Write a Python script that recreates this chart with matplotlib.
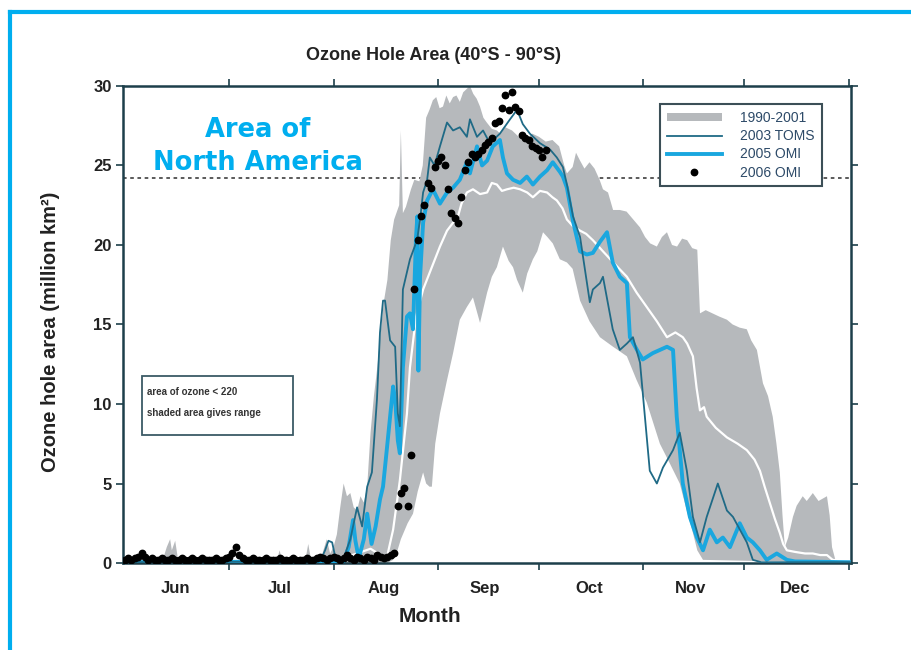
import numpy as np
import matplotlib.pyplot as plt
from matplotlib.lines import Line2D
from matplotlib.patches import Rectangle

plt.rcParams['font.family'] = ['Liberation Sans', 'DejaVu Sans']

# x positions are day of year
month_starts = [182, 213, 244, 274, 305, 335, 366]
month_mids = [166, 197, 228, 258, 289, 319, 350]
month_names = ['Jun', 'Jul', 'Aug', 'Sep', 'Oct', 'Nov', 'Dec']

na_area = 24.2  # area of North America, million km2

# 1990-2001 range (upper and lower edge of the shaded band)
band_hi_day = [150, 162, 163.5, 164.5, 165, 166, 167, 196, 197, 198, 204.5, 205.5, 206.5, 209, 210, 211, 212,
               213, 214, 215, 216, 217, 218, 219, 220, 221, 222, 223, 224, 225, 226, 227, 228, 229, 230, 231,
               232.5, 233, 233.6, 234.5, 236, 237, 238.5, 239.5, 240.5, 241.5, 242.5, 243.5, 244.5, 245.5,
               246.5, 247.5, 248.5, 249.5, 250.5, 251.5, 252.5, 253.5, 254.5, 255.5, 256.5, 257.5, 258.5, 260,
               261.5, 262.5, 264, 266, 268, 270, 272, 274, 276, 278, 280, 281.5, 282.3, 284, 285, 286.2, 287.5,
               289, 290.5, 292, 293, 294.5, 296, 298, 300, 302, 304, 305.5, 307, 309, 310.5, 312, 313.5, 315,
               316.5, 318, 319.5, 321, 321.8, 323.5, 325.5, 327.5, 329.8, 331.5, 333.6, 335.7, 337, 338.7,
               340.5, 342, 343.4, 344.5, 345.5, 346.3, 347, 348, 349.4, 350.5, 352.3, 353.5, 355.3, 357, 359.5,
               360.3, 361, 362, 366.6]
band_hi_val = [0, 0, 1.0, 1.5, 0.8, 1.4, 0, 0, 0.8, 0, 0, 1.2, 0, 0, 0.8, 1.5, 0.6,
               1.0, 1.8, 3.5, 5.0, 4.2, 4.4, 3.5, 3.3, 4.2, 3.8, 4.8, 8.2, 10.5, 12.3, 14.5, 16.5, 17.8, 20.3, 21.6,
               22.5, 27.2, 22.0, 22.4, 23.5, 24.1, 24.0, 25.0, 28.0, 28.5, 29.1, 29.3, 28.6, 28.7,
               29.4, 28.9, 29.3, 29.4, 29.0, 29.6, 29.8, 30.0, 29.5, 29.2, 28.7, 28.0, 27.7, 27.3,
               27.2, 27.0, 27.4, 27.2, 26.8, 26.6, 27.0, 26.8, 26.5, 26.6, 26.2, 25.0, 24.5, 24.9, 25.8, 25.3, 24.8,
               25.2, 24.8, 24.1, 23.5, 23.3, 22.2, 22.2, 22.1, 21.6, 21.1, 20.5, 20.1, 19.9, 20.5, 20.8, 20.0, 19.9,
               20.4, 20.3, 19.8, 19.7, 15.7, 15.9, 15.7, 15.5, 15.3, 15.0, 14.8, 14.7, 14.0, 13.4,
               11.3, 10.5, 9.2, 7.5, 5.7, 3.0, 1.0, 1.6, 2.9, 3.6, 4.2, 3.9, 4.4, 3.9, 4.2,
               3.0, 1.0, 0.2, 0.05]
band_lo_day = [150, 229, 230.7, 232, 233, 235, 236.6, 238, 239.6, 240.5, 241.5, 242.2, 243.2, 244.6, 246.7,
               248.5, 250.5, 252.6, 254.4, 256.5, 258.6, 260, 261.5, 263.3, 265, 266.3, 267.5, 269.2, 270.5,
               272.2, 273.5, 275.2, 276.5, 278.1, 280.2, 282.3, 284, 286.2, 289, 292.1, 296, 300.1, 303, 306,
               309.9, 313, 315.8, 318, 319.7, 321, 322.7, 366.6]
band_lo_val = [0, 0, 0.2, 0.8, 1.5, 2.5, 3.1, 4.5, 5.7, 5.0, 4.8, 4.8, 7.5, 9.4, 11.5,
               13.2, 15.3, 16.1, 16.7, 15.1, 17.0, 18.0, 18.6, 19.9, 19.0, 18.6, 17.8, 17.0, 18.2,
               19.1, 19.6, 20.8, 20.5, 20.1, 19.1, 18.9, 18.5, 16.5, 15.2, 14.2, 13.6, 13.0, 11.5, 10.1,
               7.5, 6.2, 5.0, 3.2, 1.9, 0.8, 0.2, 0]

# 1990-2001 mean (white line)
mean_day = [150.5, 214, 220, 224, 227, 228.9, 230.7, 232.7, 234.8, 235.7, 237.5, 239.6, 242, 244.6, 246.7,
            248.5, 249.7, 251, 252.6, 254.4, 256.5, 258.6, 260, 261.5, 263, 264.5, 266.5, 268.4, 270.5, 272.2,
            274.3, 276.4, 278, 279.3, 281, 282.3, 284, 286.2, 288, 290, 293, 296.5, 300.1, 303, 306, 309, 312,
            314.5, 316.7, 318, 319.7, 320.8, 321.8, 323, 323.8, 326.5, 329.8, 333, 335.7, 338, 339.6, 341,
            342.5, 344, 345.5, 346.5, 347.6, 350, 353, 355.3, 357.5, 359.5, 361.2, 366.6]
mean_val = [0.1, 0.2, 0.6, 0.9, 0.5, 0.4, 2.1, 5.2, 9.4, 12.3, 15.5, 17.2, 18.5, 19.9, 20.9,
            21.4, 21.6, 22.6, 23.3, 23.5, 23.2, 23.3, 23.9, 23.8, 23.4, 23.5, 23.6, 23.5, 23.3, 23.0,
            23.4, 23.3, 23.0, 22.8, 22.3, 21.6, 21.2, 20.9, 20.7, 20.3, 19.6, 18.8, 18.0, 17.0, 16.1, 15.2, 14.2,
            14.5, 14.2, 13.8, 13.0, 11.0, 9.6, 9.8, 9.2, 8.5, 7.9, 7.5, 7.1, 6.5, 5.8, 4.8,
            3.8, 2.8, 1.9, 1.2, 0.8, 0.7, 0.6, 0.6, 0.5, 0.5, 0.2, 0.1]

# 2003 TOMS
toms03_day = [150.5, 209, 210.5, 211.5, 212.6, 213.5, 216, 218, 220, 221.5, 223, 224.4, 225.9, 226.8, 227.7,
              228.3, 229.8, 231.3, 232.1, 232.7, 233.6, 235.7, 237.8, 238.7, 239.6, 240.8, 241.6, 243, 244.6,
              246.7, 248.5, 250.5, 252.6, 253.5, 255.6, 257.4, 259.4, 262.4, 265.4, 267.5, 269.2, 271.3, 274.3,
              277.3, 279.3, 281.1, 282.3, 284.1, 286.2, 289.1, 290, 292.1, 293, 295.9, 298, 300.1, 301.9, 304,
              306.9, 309, 310.8, 313.8, 315.8, 317.9, 319.7, 321.8, 323.8, 327.1, 329.8, 331.6, 335.7, 337.5,
              340, 366.6]
toms03_val = [0.05, 0.1, 0.8, 1.4, 1.3, 0.4, 0.3, 1.5, 3.5, 2.3, 4.8, 5.7, 10.3, 14.5, 16.5,
              16.5, 14.0, 13.6, 9.4, 8.6, 17.2, 19.1, 20.3, 21.6, 23.3, 24.1, 25.5, 25.0, 26.2,
              27.7, 27.2, 27.4, 26.8, 27.9, 26.8, 27.2, 26.4, 27.0, 27.9, 28.5, 27.6, 27.0, 26.4,
              26.0, 25.5, 24.9, 23.8, 21.8, 20.5, 16.4, 17.2, 17.6, 18.0, 14.7, 13.4, 13.8, 14.2, 12.6,
              5.8, 5.0, 6.0, 7.1, 8.2, 5.8, 2.9, 1.3, 2.9, 5.0, 3.3, 2.9, 1.3, 0.2,
              0.05, 0.05]

# 2005 OMI
omi05_day = [150.5, 216, 217.5, 218.8, 219.5, 220.5, 222, 223, 224.3, 225.5, 226.8, 227.7, 229, 229.8, 230.7,
             231.3, 232.1, 232.7, 233.6, 234.8, 235.7, 236.6, 237.5, 237.9, 238.2, 238.7, 239.6, 240.8, 242.5,
             244.6, 246.7, 248.5, 250.5, 252.6, 253.5, 255.6, 257.1, 258.6, 260.3, 262.4, 263.3, 264.5, 266.3,
             268.4, 270.4, 272.2, 274.3, 276.4, 278.1, 280.2, 281.1, 282.3, 284.1, 286.2, 288.2, 290, 292.1,
             294.2, 295.9, 298, 300.1, 301, 303.1, 304.8, 307.8, 309.9, 312, 313.8, 314.9, 316.7, 318.8, 320.9,
             322.7, 324.7, 326.8, 328.6, 330.7, 333.6, 335.7, 337.5, 339.6, 341.6, 344.6, 347.6, 350, 366.6]
omi05_val = [0.05, 0.1, 1.0, 2.7, 1.4, 0.3, 1.5, 3.1, 1.2, 2.3, 4.0, 4.8, 7.5, 9.2, 11.1,
             10.3, 7.7, 6.9, 12.3, 15.5, 15.7, 14.7, 20.5, 21.8, 12.1, 18.0, 21.4, 22.8, 23.5,
             22.6, 23.3, 23.6, 24.1, 25.2, 24.5, 26.2, 25.0, 25.3, 26.2, 26.6, 25.5, 24.5, 24.1,
             23.9, 24.3, 23.8, 24.3, 24.7, 25.2, 24.6, 24.3, 23.6, 21.5, 19.6, 19.4, 19.5, 20.2,
             20.8, 18.9, 18.0, 17.6, 14.2, 13.4, 12.8, 13.2, 13.4, 13.6, 13.4, 9.2, 5.0, 2.9, 1.6,
             0.8, 2.1, 1.3, 1.6, 1.0, 2.5, 1.6, 1.3, 0.8, 0.2, 0.6, 0.2, 0.1, 0.05]

# 2006 OMI daily values
omi06_day = list(range(151, 277))
omi06_val = [0.2, 0.3, 0.2, 0.3, 0.4, 0.6, 0.4, 0.2, 0.3, 0.2,
             0.2, 0.3, 0.2, 0.2, 0.3, 0.2, 0.2, 0.3, 0.2, 0.2,
             0.3, 0.2, 0.2, 0.3, 0.2, 0.2, 0.2, 0.3, 0.2, 0.2,
             0.3, 0.4, 0.6, 1.0, 0.5, 0.3, 0.2, 0.2, 0.3, 0.2,
             0.2, 0.2, 0.3, 0.2, 0.2, 0.2, 0.3, 0.2, 0.2, 0.2,
             0.3, 0.2, 0.2, 0.2, 0.3, 0.2, 0.2, 0.3, 0.4, 0.3,
             0.2, 0.3, 0.4, 0.3, 0.2, 0.3, 0.5, 0.3, 0.2, 0.4,
             0.3, 0.2, 0.4, 0.3, 0.2, 0.5, 0.4, 0.3, 0.4, 0.5, 0.6,
             3.6, 4.4, 4.7, 3.6, 6.8, 17.2, 20.3, 21.8, 22.5, 23.9,
             23.6, 24.9, 25.3, 25.5, 25.0, 23.5, 22.0, 21.7, 21.4, 23.0,
             24.7, 25.2, 25.7, 25.5, 25.7, 26.0, 26.3, 26.5, 26.7, 27.7,
             27.8, 28.6, 29.4, 28.5, 29.6, 28.7, 28.4, 26.9, 26.7, 26.6,
             26.2, 26.1, 26.0, 25.5, 26.0]

band_color = '#b6b9bc'
toms_color = '#1f6a86'
omi_color = '#1aa7df'
frame_color = '#1d3f4a'
text_color = '#222222'

fig = plt.figure(figsize=(9.11, 6.5), dpi=100)
ax = fig.add_axes([0.135, 0.1338, 0.799, 0.734])

ax.axhline(na_area, color='#4d4d4d', ls=(0, (2, 2)), lw=1.3, zorder=0.5)

band = ax.fill(np.concatenate([band_hi_day, band_lo_day[::-1]]),
               np.concatenate([band_hi_val, band_lo_val[::-1]]),
               color=band_color, lw=0, zorder=1)[0]
ax.plot(mean_day, mean_val, color='white', lw=1.6, zorder=2)
l05, = ax.plot(omi05_day, omi05_val, color=omi_color, lw=2.8, zorder=3)
l03, = ax.plot(toms03_day, toms03_val, color=toms_color, lw=1.3, zorder=4)
d06, = ax.plot(omi06_day, omi06_val, 'o', color='black', ms=4.6, zorder=5)

ax.set_xlim(150.5, 366.6)
ax.set_ylim(0, 30)
ax.set_yticks(range(0, 31, 5))
ax.set_xticks(month_starts)
ax.set_xticklabels([])
ax.set_xticks(month_mids, minor=True)
ax.set_xticklabels(month_names, minor=True)

for s in ax.spines.values():
    s.set_color(frame_color)
    s.set_linewidth(1.8)
ax.tick_params(which='major', direction='out', length=5, width=1.2, color=frame_color,
               top=True, right=True, labelsize=12, labelcolor=text_color, pad=3)
ax.tick_params(which='minor', length=0, pad=13, labelsize=12, labelcolor=text_color)
for lab in ax.get_yticklabels() + ax.get_xticklabels(minor=True):
    lab.set_fontweight('bold')

ax.set_ylabel('Ozone hole area (million km²)', fontsize=14.5, fontweight='bold', color=text_color)
ax.yaxis.set_label_coords(-0.087, 0.485)

fig.text(434 / 911, 1 - 55 / 650, 'Ozone Hole Area (40°S - 90°S)', fontsize=13,
         fontweight='bold', color=text_color, ha='center', va='center')
fig.text(430 / 911, 1 - 616 / 650, 'Month', fontsize=15, fontweight='bold',
         color=text_color, ha='center', va='center')

fig.text(257.5 / 911, 1 - 137 / 650, 'Area of', fontsize=18.5, fontweight='heavy',
         family='DejaVu Sans', color='#00aeef', ha='center', va='baseline')
fig.text(257.5 / 911, 1 - 169.5 / 650, 'North America', fontsize=18.5, fontweight='heavy',
         family='DejaVu Sans', color='#00aeef', ha='center', va='baseline')

ax.add_patch(Rectangle((0.0257, 0.268), 0.208, 0.124, transform=ax.transAxes,
                       facecolor='white', edgecolor='#3c5a66', lw=1.3, zorder=6))
ax.text(0.0326, 0.359, 'area of ozone < 220', transform=ax.transAxes, fontsize=7,
        fontweight='bold', color='#333333', va='center', zorder=7)
ax.text(0.0326, 0.314, 'shaded area gives range', transform=ax.transAxes, fontsize=7,
        fontweight='bold', color='#333333', va='center', zorder=7)

leg = ax.legend([band, l03, l05, d06], ['1990-2001', '2003 TOMS', '2005 OMI', '2006 OMI'],
                loc='upper right', bbox_to_anchor=(0.960, 0.962), borderaxespad=0,
                fontsize=10, handlelength=4.0, handleheight=0.5, handletextpad=1.3,
                labelspacing=0.3, borderpad=0.5, numpoints=1, fancybox=False, framealpha=1,
                edgecolor='#3c4f57')
leg.get_frame().set_linewidth(1.5)
leg.set_zorder(8)
for t in leg.get_texts():
    t.set_color('#2d4a68')

# blue page frame
fig.add_artist(Line2D([10 / 911, 1], [1 - 12 / 650, 1 - 12 / 650], color='#00aeef', lw=3,
                      transform=fig.transFigure))
fig.add_artist(Line2D([10 / 911, 10 / 911], [0, 1 - 12 / 650], color='#00aeef', lw=3,
                      transform=fig.transFigure))

fig.savefig('out.png', dpi=100)
